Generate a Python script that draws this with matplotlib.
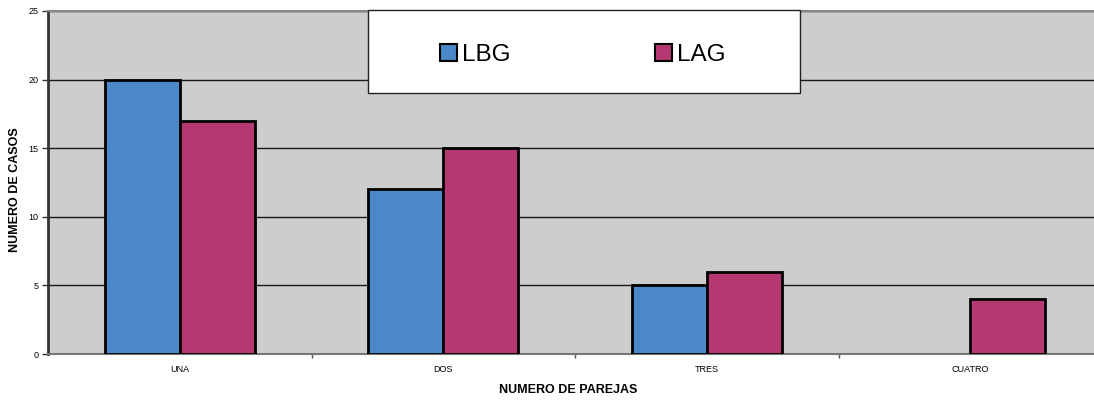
import numpy as np
import matplotlib.pyplot as plt
from matplotlib.patches import Rectangle

plt.rcParams['font.family'] = ['Liberation Sans', 'DejaVu Sans']

categories = ['UNA', 'DOS', 'TRES', 'CUATRO']
series_names = ['LBG', 'LAG']
lbg = [20, 12, 5, 0]
lag = [17, 15, 6, 4]
colors = ['#4A88C7', '#B63872']

W, H = 1094, 403
fig = plt.figure(figsize=(W / 100, H / 100), dpi=100)
fig.patch.set_facecolor('white')

# plot area runs slightly past the right edge of the figure
left, right, top, bottom = 48, 1102, 11, 354
ax = fig.add_axes([left / W, 1 - bottom / H, (right - left) / W, (bottom - top) / H])
ax.set_facecolor('#CDCDCD')

x = np.arange(len(categories))
bw = 0.285
for vals, off, c in zip([lbg, lag], [-bw / 2, bw / 2], colors):
    v = np.array(vals, dtype=float)
    mask = v > 0
    ax.bar(x[mask] + off, v[mask], width=bw, color=c, edgecolor='black',
           linewidth=2, zorder=3)

ax.set_xlim(-0.5, len(categories) - 0.5)
ax.set_ylim(0, 25)
ax.set_yticks([0, 5, 10, 15, 20, 25])
ax.set_yticklabels(['0', '5', '10', '15', '20', '25'], fontsize=6.5)
ax.grid(axis='y', color='#1a1a1a', linewidth=1, zorder=1)
ax.set_xticks(x)
ax.set_xticklabels(categories, fontsize=6.5)
ax.tick_params(axis='x', length=0, pad=8)
ax.set_xticks(np.arange(0.5, len(categories) - 0.5, 1), minor=True)
ax.tick_params(axis='x', which='minor', length=3, color='#555555', width=1)
ax.tick_params(axis='y', length=4, width=1, color='#333333', pad=3)

ax.spines['left'].set_color('#333333')
ax.spines['left'].set_linewidth(2)
ax.spines['bottom'].set_color('#777777')
ax.spines['bottom'].set_linewidth(1.5)
ax.spines['top'].set_color('#888888')
ax.spines['top'].set_linewidth(1.5)
ax.spines['right'].set_visible(False)

fig.text(15 / W, 1 - 190 / H, 'NUMERO DE CASOS', rotation=90, ha='center',
         va='center', fontsize=9, fontweight='bold')
fig.text(568 / W, 1 - 390 / H, 'NUMERO DE PAREJAS', ha='center', va='center',
         fontsize=9, fontweight='bold')

# legend box
fig.patches.append(Rectangle((368 / W, 1 - 93 / H), 432 / W, 83 / H,
                             transform=fig.transFigure, facecolor='white',
                             edgecolor='#222222', linewidth=1, zorder=10))
for name, c, mx in zip(series_names, colors, [440, 655]):
    fig.patches.append(Rectangle((mx / W, 1 - 61 / H), 17 / W, 17 / H,
                                 transform=fig.transFigure, facecolor=c,
                                 edgecolor='black', linewidth=1.5, zorder=11))
    fig.text((mx + 22) / W, 1 - 61 / H, name, ha='left', va='baseline',
             fontsize=17.5, zorder=12)

fig.savefig('out.png', dpi=100)
